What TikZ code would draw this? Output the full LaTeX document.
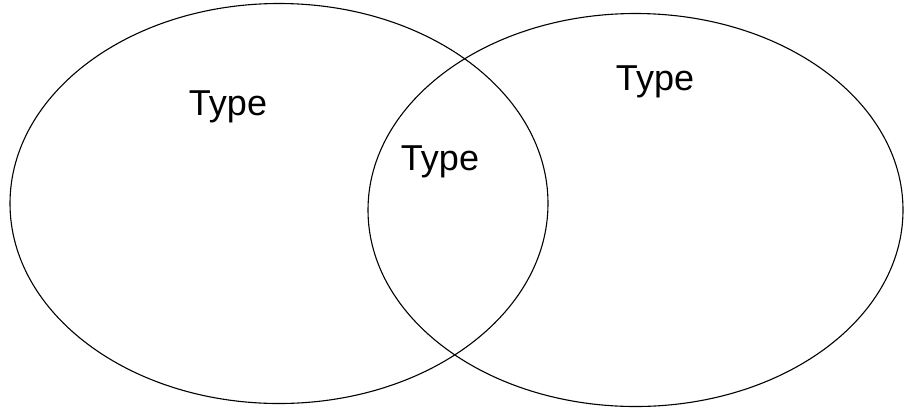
\documentclass[tikz,border=0pt]{standalone}
\usepackage{fontspec}
\setmainfont{Liberation Sans}
\begin{document}
\begin{tikzpicture}[x=1pt,y=-1pt,
  ring/.style={draw=black,line width=1.1pt},
  lbl/.style={font=\fontsize{36}{42}\selectfont,inner sep=0pt}]
\useasboundingbox (0,0) rectangle (907,408);
\draw[ring] (279,203.5) ellipse [x radius=269, y radius=200];
\draw[ring] (635.5,210) ellipse [x radius=267.5, y radius=196.5];
\node[lbl] (a) at (228,107) {Type};
\node[lbl] (b) at (440,162) {Type};
\node[lbl] (c) at (655,82) {Type};
\end{tikzpicture}
\end{document}
